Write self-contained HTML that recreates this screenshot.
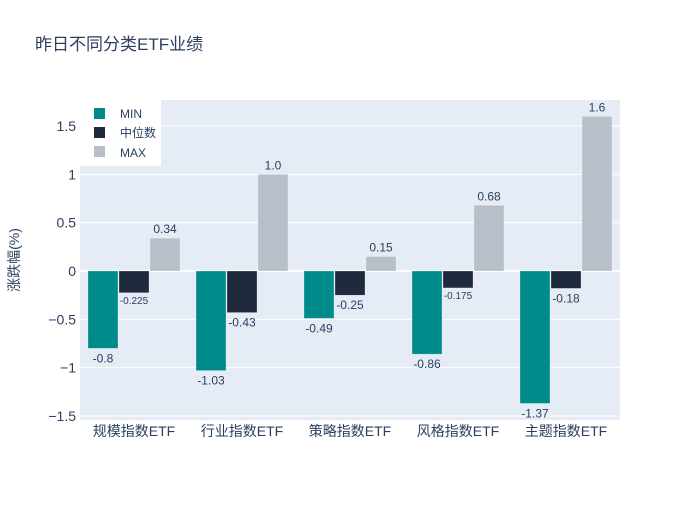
<!DOCTYPE html>
<html><head><meta charset="utf-8"><style>
body{margin:0;background:#fff;font-family:"Liberation Sans","Noto Sans CJK SC",sans-serif}
svg text{font-family:"Liberation Sans","Noto Sans CJK SC",sans-serif;fill:#2a3f5f}
</style></head><body>
<svg id="chart" width="700" height="500" xmlns="http://www.w3.org/2000/svg">
<rect width="700" height="500" fill="#fff"/>
<text x="35" y="50" font-size="17">昨日不同分类ETF业绩</text>
<rect x="80" y="100" width="540" height="320" fill="#e5ecf6"/>
<g id="grid"></g><g id="bars"></g><g id="labels"></g>
<text transform="translate(19,260) rotate(-90)" text-anchor="middle" font-size="14">涨跌幅(%)</text>
<g>
<rect x="80" y="100" width="81" height="66" fill="#fff"/>
<rect x="94" y="108" width="11" height="11" fill="#008b8b"/>
<text x="120" y="118" font-size="12">MIN</text>
<rect x="94" y="127" width="11" height="11" fill="#1f2a3c"/>
<text x="120" y="137" font-size="12">中位数</text>
<rect x="94" y="146" width="11" height="11" fill="#b8bfc8"/>
<text x="120" y="157" font-size="12">MAX</text>
</g>
</svg>
<script>
const categories=["规模指数ETF","行业指数ETF","策略指数ETF","风格指数ETF","主题指数ETF"];
const minVals=[-0.8,-1.03,-0.49,-0.86,-1.37];
const medVals=[-0.225,-0.43,-0.25,-0.175,-0.18];
const maxVals=[0.34,1.0,0.15,0.68,1.6];
const minText=["-0.8","-1.03","-0.49","-0.86","-1.37"];
const medText=["-0.225","-0.43","-0.25","-0.175","-0.18"];
const maxText=["0.34","1.0","0.15","0.68","1.6"];
const yTicks=[-1.5,-1,-0.5,0,0.5,1,1.5];
const yTickText=["−1.5","−1","−0.5","0","0.5","1","1.5"];
const NS="http://www.w3.org/2000/svg";
const y=v=>271-v*96.67;
const bandX=i=>80+i*108;
function mk(tag,attrs,parent){const e=document.createElementNS(NS,tag);for(const k in attrs)e.setAttribute(k,attrs[k]);parent.appendChild(e);return e;}
const grid=document.getElementById('grid'),bars=document.getElementById('bars'),labels=document.getElementById('labels');
yTicks.forEach((t,i)=>{
 const l=mk('line',{x1:80,x2:620,y1:y(t),y2:y(t),stroke:'#fff','stroke-width':t===0?2:1},grid);
 
 
 const tx=mk('text',{x:76,y:y(t)+5,'text-anchor':'end','font-size':14},grid);
 tx.textContent=yTickText[i];
 
 
});
const series=[[minVals,minText,'#008b8b','min'],[medVals,medText,'#1f2a3c','median'],[maxVals,maxText,'#b8bfc8','max']];
categories.forEach((c,i)=>{
 const cx=bandX(i)+54;
 const ct=mk('text',{x:cx,y:436,'text-anchor':'middle','font-size':14},labels);
 ct.textContent=c;
 
 
 series.forEach((s,j)=>{
  const v=s[0][i];const x0=bandX(i)+8+j*31;
  const top=Math.min(y(v),y(0)),h=Math.abs(y(v)-y(0));
  const r=mk('rect',{x:x0,y:top,width:30,height:h,fill:s[2],stroke:'rgba(255,255,255,0.5)','stroke-width':0.5},bars);
  
  
  const txt=s[1][i];const small=txt.length>5;
  const fs=small?10:12;
  const ly=v>=0?y(v)-5:y(v)+(small?11:14);
  const t=mk('text',{x:x0+15,y:ly,'text-anchor':'middle','font-size':fs},labels);
  t.textContent=txt;
  
  
 });
});
</script>
</body></html>
